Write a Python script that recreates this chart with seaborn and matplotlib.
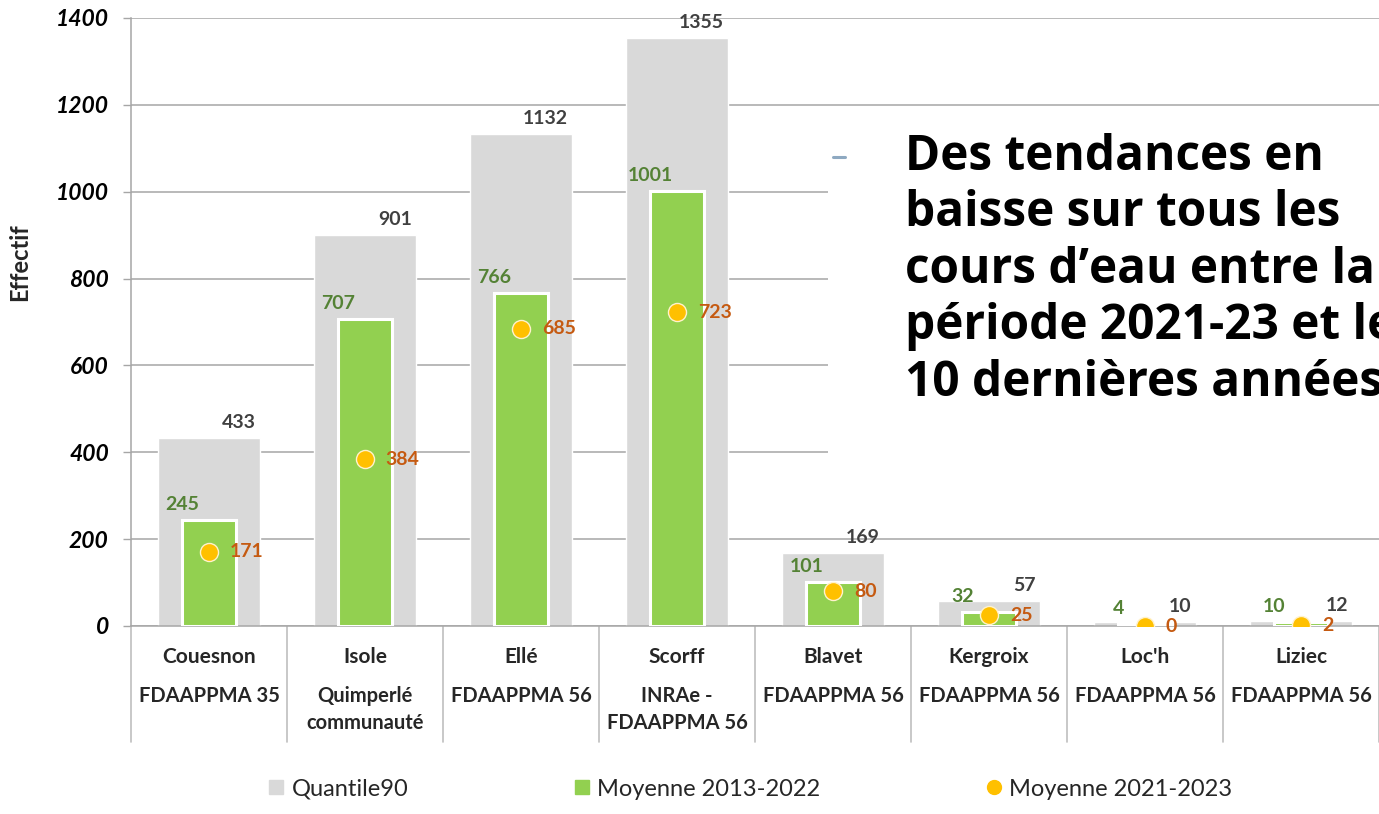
import matplotlib
matplotlib.use("Agg")
import matplotlib.pyplot as plt
import seaborn as sns
import pandas as pd
from matplotlib.lines import Line2D
from matplotlib.patches import Rectangle
import matplotlib.transforms as mtransforms

# ---- data ----
rivers = ["Couesnon", "Isole", "Ellé", "Scorff", "Blavet", "Kergroix", "Loc'h", "Liziec"]
operators = ["FDAAPPMA 35", "Quimperlé\ncommunauté", "FDAAPPMA 56", "INRAe -\nFDAAPPMA 56",
             "FDAAPPMA 56", "FDAAPPMA 56", "FDAAPPMA 56", "FDAAPPMA 56"]
quantile90 = [433, 901, 1132, 1355, 169, 57, 10, 12]
moy_2013_2022 = [245, 707, 766, 1001, 101, 32, 4, 10]
moy_2021_2023 = [171, 384, 685, 723, 80, 25, 0, 2]
yticks = [0, 200, 400, 600, 800, 1000, 1200, 1400]
legend_labels = ["Quantile90", "Moyenne 2013-2022", "Moyenne 2021-2023"]
note = "Des tendances en\nbaisse sur tous les\ncours d\u2019eau entre la\np\u00e9riode 2021-23 et les\n10 derni\u00e8res ann\u00e9es"

df = pd.DataFrame({"river": rivers, "q90": quantile90, "m1": moy_2013_2022, "m2": moy_2021_2023})

sns.set_theme(style="white")
plt.rcParams["font.family"] = ["Lato", "DejaVu Sans"]

GREY = "#d9d9d9"
GREEN = "#92d050"
YELLOW = "#ffc000"
LINE = "#a6a6a6"
SEP = "#bfbfbf"

fig = plt.figure(figsize=(13.79, 8.14), dpi=100)
W, H = 1379, 814
ax = fig.add_axes([131 / W, 1 - 626 / H, 1248 / W, 608 / H])

sns.barplot(data=df, x="river", y="q90", color=GREY, width=0.66, saturation=1,
            ax=ax, zorder=2)
sns.barplot(data=df, x="river", y="m1", color=GREEN, width=0.34, saturation=1,
            edgecolor="white", linewidth=2.2, ax=ax, zorder=3)
sns.pointplot(data=df, x="river", y="m2", color=YELLOW, linestyle="none", markers="o",
              markersize=13, markeredgecolor="#fff2cc", markeredgewidth=1,
              errorbar=None, ax=ax, zorder=6)

ax.set_xlim(-0.5, len(rivers) - 0.5)
ax.set_ylim(0, 1400)
ax.set_yticks(yticks)
ax.set_yticklabels([str(t) for t in yticks], fontsize=16.5, fontweight="bold",
                   fontstyle="italic", color="black")
ax.set_xticks([])
ax.set_xlabel("")
ax.set_ylabel("")
ax.set_axisbelow(True)
ax.yaxis.grid(True, color=LINE, linewidth=1.1)
ax.tick_params(axis="y", direction="out", length=6, width=1, color=LINE, pad=10, left=True)
for s in ["top", "right"]:
    ax.spines[s].set_visible(False)
for s in ["left", "bottom"]:
    ax.spines[s].set_color(LINE)
    ax.spines[s].set_linewidth(1.1)

# white box behind the note (covers gridlines)
ax.add_patch(Rectangle((828 / W, 1 - 480 / H), 1 - 828 / W, 360 / H,
                       transform=fig.transFigure, facecolor="white", edgecolor="none",
                       zorder=1))

# value labels
for i in range(len(rivers)):
    ax.annotate(str(quantile90[i]), xy=(i + 0.30, quantile90[i]), xytext=(0, 5),
                textcoords="offset points", ha="right", va="bottom",
                fontsize=14, fontweight="bold", color="#404040", zorder=7)
    ax.annotate(str(moy_2013_2022[i]), xy=(i - 0.17, moy_2013_2022[i]), xytext=(0, 5),
                textcoords="offset points", ha="center", va="bottom",
                fontsize=14, fontweight="bold", color="#548235", zorder=7)
    ax.annotate(str(moy_2021_2023[i]), xy=(i, moy_2021_2023[i]), xytext=(15, 0),
                textcoords="offset points", ha="left", va="center",
                fontsize=14, fontweight="bold", color="#c55a11", zorder=7)

# category "table" below the axis
trans = mtransforms.blended_transform_factory(ax.transData, ax.transAxes)
depth = 116 / 608
for k in range(len(rivers) + 1):
    ax.add_line(Line2D([k - 0.5, k - 0.5], [0, -depth], transform=trans, color=SEP,
                       linewidth=1.2, clip_on=False))
for i in range(len(rivers)):
    ax.text(i, -31 / 608, rivers[i], transform=trans, ha="center", va="center",
            fontsize=15, fontweight="bold", clip_on=False)
    ax.text(i, -60 / 608, operators[i], transform=trans, ha="center", va="top",
            fontsize=14.5, fontweight="bold", linespacing=1.45, clip_on=False)

# y label
fig.text(20 / W, 1 - 262 / H, "Effectif", rotation=90, ha="center", va="center",
         fontsize=17, fontweight="bold")

# note
fig.add_artist(Line2D([833 / W, 845 / W], [1 - 157 / H, 1 - 157 / H],
                      transform=fig.transFigure, color="#8ea9c1", linewidth=2.2))
fig.text(905 / W, 1 - 133 / H, note, ha="left", va="top", fontsize=34.4,
         fontweight="bold", family=["Open Sans", "DejaVu Sans"], linespacing=1.2,
         color="black")

# legend
handles = [
    Line2D([], [], marker="s", linestyle="none", color=GREY, markersize=10),
    Line2D([], [], marker="s", linestyle="none", color=GREEN, markersize=10),
    Line2D([], [], marker="o", linestyle="none", color=YELLOW, markersize=10),
]
fig.legend(handles, legend_labels, loc="center", bbox_to_anchor=(750 / W, 1 - 789 / H),
           ncol=3, frameon=False, fontsize=17, handlelength=0.7, handletextpad=0.3,
           columnspacing=7.0)

fig.savefig("out.png", dpi=100)
